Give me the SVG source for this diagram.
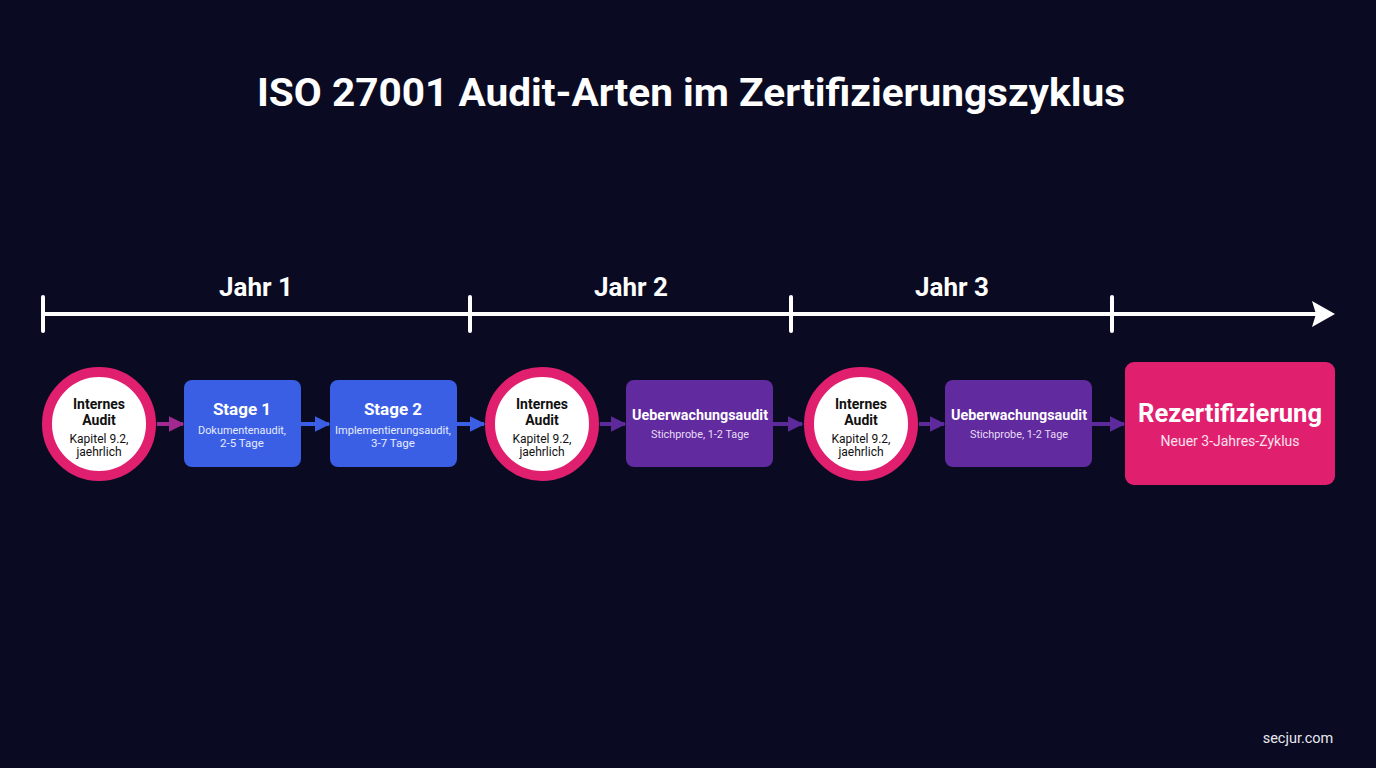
<svg xmlns="http://www.w3.org/2000/svg" width="1376" height="768" viewBox="0 0 1376 768">
<defs>
<style>
text{font-family:Roboto,"Liberation Sans",sans-serif;fill:#fff;text-anchor:middle}
.t{font-size:39px;font-weight:700}
.yr{font-size:26px;font-weight:700}
.ch{font-size:14px;font-weight:700;fill:#111}
.cs{font-size:12px;fill:#111}
.bh{font-size:17px;font-weight:700}
.bs{font-size:11.5px;fill:#e6ebff}
.ph{font-size:14px;font-weight:700}
.ps{font-size:11.5px;fill:#e8dcf5}
.ring{fill:#fff;stroke:#e0206f;stroke-width:10}
.blue{fill:#3a5fe5}
.purple{fill:#612a9f}
.tl{stroke:#fff;stroke-width:4;stroke-linecap:round;fill:none}
.c{stroke-width:4;fill:none}
</style>
<marker id="ap" viewBox="0 0 10 10" refX="9" refY="5" markerWidth="4" markerHeight="4" orient="auto" markerUnits="strokeWidth"><path d="M0,0 L10,5 L0,10 z" fill="#a02a8f"/></marker>
<marker id="ab" viewBox="0 0 10 10" refX="9" refY="5" markerWidth="4" markerHeight="4" orient="auto" markerUnits="strokeWidth"><path d="M0,0 L10,5 L0,10 z" fill="#3a5fe5"/></marker>
<marker id="av" viewBox="0 0 10 10" refX="9" refY="5" markerWidth="4" markerHeight="4" orient="auto" markerUnits="strokeWidth"><path d="M0,0 L10,5 L0,10 z" fill="#5c2a9a"/></marker>
</defs>
<rect width="1376" height="768" fill="#0a0b22"/>
<text class="t" x="691" y="106" textLength="868" lengthAdjust="spacingAndGlyphs">ISO 27001 Audit-Arten im Zertifizierungszyklus</text>

<g id="timeline">
<line class="tl" x1="43" y1="314" x2="1316" y2="314"/>
<line class="tl" x1="43" y1="297" x2="43" y2="331"/>
<line class="tl" x1="470" y1="297" x2="470" y2="331"/>
<line class="tl" x1="791" y1="297" x2="791" y2="331"/>
<line class="tl" x1="1112" y1="297" x2="1112" y2="331"/>
<path d="M1312,301 L1335,314 L1312,327 L1316,314 z" fill="#fff"/>
<text class="yr" x="256" y="296">Jahr 1</text>
<text class="yr" x="631" y="296">Jahr 2</text>
<text class="yr" x="952" y="296">Jahr 3</text>
</g>

<g id="connectors">
<line class="c" stroke="#a02a8f" x1="157" y1="424" x2="183" y2="424" marker-end="url(#ap)"/>
<line class="c" stroke="#3a5fe5" x1="301" y1="424" x2="329" y2="424" marker-end="url(#ab)"/>
<line class="c" stroke="#3a5fe5" x1="457" y1="424" x2="484" y2="424" marker-end="url(#ab)"/>
<line class="c" stroke="#5c2a9a" x1="600" y1="424" x2="625" y2="424" marker-end="url(#av)"/>
<line class="c" stroke="#5c2a9a" x1="773" y1="424" x2="802" y2="424" marker-end="url(#av)"/>
<line class="c" stroke="#5c2a9a" x1="919" y1="424" x2="944" y2="424" marker-end="url(#av)"/>
<line class="c" stroke="#5c2a9a" x1="1092" y1="424" x2="1124" y2="424" marker-end="url(#av)"/>
</g>

<g id="internes1">
<circle class="ring" cx="99" cy="424" r="52"/>
<text class="ch" x="99" y="409">Internes</text>
<text class="ch" x="99" y="425">Audit</text>
<text class="cs" x="99" y="443">Kapitel 9.2,</text>
<text class="cs" x="99" y="456">jaehrlich</text>
</g>

<g id="stage1">
<rect class="blue" x="184" y="380" width="117" height="87" rx="8"/>
<text class="bh" x="242" y="415">Stage 1</text>
<text class="bs" x="242" y="434" textLength="88" lengthAdjust="spacingAndGlyphs">Dokumentenaudit,</text>
<text class="bs" x="242" y="447">2-5 Tage</text>
</g>

<g id="stage2">
<rect class="blue" x="330" y="380" width="127" height="87" rx="8"/>
<text class="bh" x="393" y="415">Stage 2</text>
<text class="bs" x="393" y="434" textLength="116" lengthAdjust="spacingAndGlyphs">Implementierungsaudit,</text>
<text class="bs" x="393" y="447">3-7 Tage</text>
</g>

<g id="internes2">
<circle class="ring" cx="542" cy="424" r="52"/>
<text class="ch" x="542" y="409">Internes</text>
<text class="ch" x="542" y="425">Audit</text>
<text class="cs" x="542" y="443">Kapitel 9.2,</text>
<text class="cs" x="542" y="456">jaehrlich</text>
</g>

<g id="ueberwachung1">
<rect class="purple" x="626" y="380" width="147" height="87" rx="8"/>
<text class="ph" x="700" y="420" textLength="136" lengthAdjust="spacingAndGlyphs">Ueberwachungsaudit</text>
<text class="ps" x="700" y="438" textLength="98" lengthAdjust="spacingAndGlyphs">Stichprobe, 1-2 Tage</text>
</g>

<g id="internes3">
<circle class="ring" cx="861" cy="424" r="52"/>
<text class="ch" x="861" y="409">Internes</text>
<text class="ch" x="861" y="425">Audit</text>
<text class="cs" x="861" y="443">Kapitel 9.2,</text>
<text class="cs" x="861" y="456">jaehrlich</text>
</g>

<g id="ueberwachung2">
<rect class="purple" x="945" y="380" width="147" height="87" rx="8"/>
<text class="ph" x="1019" y="420" textLength="136" lengthAdjust="spacingAndGlyphs">Ueberwachungsaudit</text>
<text class="ps" x="1019" y="438" textLength="98" lengthAdjust="spacingAndGlyphs">Stichprobe, 1-2 Tage</text>
</g>

<g id="rezertifizierung">
<rect x="1125" y="362" width="210" height="123" rx="9" fill="#e0206f"/>
<text x="1230" y="422" style="font-size:25px;font-weight:700" textLength="184" lengthAdjust="spacingAndGlyphs">Rezertifizierung</text>
<text x="1230" y="446" style="font-size:14px;fill:#fbe0ee">Neuer 3-Jahres-Zyklus</text>
</g>

<text x="1298" y="743" style="font-size:14.5px;fill:#e8e8f0">secjur.com</text>
</svg>
